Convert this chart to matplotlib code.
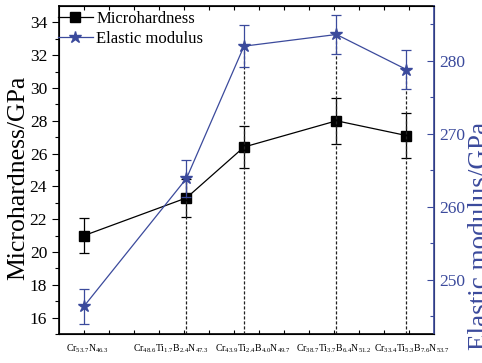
import matplotlib
matplotlib.use("Agg")
import matplotlib.pyplot as plt
import numpy as np

plt.rcParams['font.family'] = ['Liberation Serif', 'DejaVu Serif']
plt.rcParams['mathtext.fontset'] = 'custom'
plt.rcParams['mathtext.rm'] = 'Liberation Serif'
plt.rcParams['mathtext.it'] = 'Liberation Serif:italic'

# Ti+B content, used as x position
x_pos = [0.0, 4.1, 6.4, 10.1, 12.9]
x_labels = [r'Cr$_{\mathrm{53.7}}$N$_{\mathrm{46.3}}$',
            r'Cr$_{\mathrm{48.6}}$Ti$_{\mathrm{1.7}}$B$_{\mathrm{2.4}}$N$_{\mathrm{47.3}}$',
            r'Cr$_{\mathrm{43.9}}$Ti$_{\mathrm{2.4}}$B$_{\mathrm{4.0}}$N$_{\mathrm{49.7}}$',
            r'Cr$_{\mathrm{38.7}}$Ti$_{\mathrm{3.7}}$B$_{\mathrm{6.4}}$N$_{\mathrm{51.2}}$',
            r'Cr$_{\mathrm{33.4}}$Ti$_{\mathrm{5.3}}$B$_{\mathrm{7.6}}$N$_{\mathrm{53.7}}$']
label_x = [0.12, 3.48, 6.76, 10.0, 13.1]

hardness = [21.0, 23.3, 26.4, 28.0, 27.1]
hardness_err = [1.05, 1.15, 1.3, 1.4, 1.35]
modulus = [246.4, 263.9, 282.0, 283.6, 278.8]
modulus_err = [2.4, 2.5, 2.9, 2.7, 2.7]

blue = '#3b4a9c'

fig = plt.figure(figsize=(4.82, 3.63), dpi=100)
ax = fig.add_axes([0.1224, 0.0799, 0.778, 0.9036])
ax2 = ax.twinx()

ax.set_xlim(-1, 14)
ax.set_ylim(15, 35)
ax2.set_ylim(242.6, 287.5)

# dashed guide lines from bottom up to modulus points
ax2.vlines(x_pos[1:], 242.6, modulus[1:], colors='#222222',
           linestyles=(0, (2.5, 1.5)), linewidth=0.9, zorder=1)

ax.errorbar(x_pos, hardness, yerr=hardness_err, fmt='none', ecolor='black',
            elinewidth=0.9, capsize=3.5, capthick=0.9, zorder=3)
ax.plot(x_pos, hardness, color='black', lw=0.9, marker='s', markersize=7,
        label='Microhardness', zorder=4)

ax2.errorbar(x_pos, modulus, yerr=modulus_err, fmt='none', ecolor=blue,
             elinewidth=0.9, capsize=3.5, capthick=0.9, zorder=3)
ax2.plot(x_pos, modulus, color=blue, lw=0.9, marker='*', markersize=9,
         label='Elastic modulus', zorder=4)

# axes styling
ax.set_xticks(np.arange(0, 14))
ax.set_xticklabels([])
ax.tick_params(axis='x', which='both', direction='in', length=3, top=True, width=0.8)
ax.set_yticks(np.arange(16, 35, 2))
ax.set_yticks(np.arange(15, 35, 1), minor=True)
ax.tick_params(axis='y', which='major', direction='out', length=5, labelsize=12.5, width=0.8)
ax.tick_params(axis='y', which='minor', direction='out', length=3, width=0.8)

ax2.set_yticks([250, 260, 270, 280])
ax2.set_yticks([245, 255, 265, 275, 285], minor=True)
ax2.tick_params(axis='y', which='both', direction='in', colors=blue, labelsize=12.5,
                width=0.8)
ax2.tick_params(axis='y', which='major', length=5)
ax2.tick_params(axis='y', which='minor', length=3)
ax2.spines['right'].set_color(blue)
ax2.spines['right'].set_linewidth(1.2)
for s in ['left', 'bottom', 'top']:
    ax.spines[s].set_linewidth(1.2)

for xl, t in zip(label_x, x_labels):
    ax.text(xl, -0.045, t, transform=ax.get_xaxis_transform(), ha='center',
            va='center', fontsize=7)

ax.set_ylabel('Microhardness/GPa', fontsize=18.5)
ax.yaxis.set_label_coords(-0.078, 0.477)
ax2.set_ylabel('Elastic modulus/GPa', fontsize=19.5, color=blue)
ax2.yaxis.set_label_coords(1.092, 0.30)

h1, l1 = ax.get_legend_handles_labels()
h2, l2 = ax2.get_legend_handles_labels()
ax2.legend(h1 + h2, l1 + l2, loc='upper left', bbox_to_anchor=(-0.012, 0.995),
           frameon=False, fontsize=12, handlelength=2.1, handletextpad=0.2,
           borderaxespad=0.0, borderpad=0.2, labelspacing=0.25)

fig.savefig('out.png', dpi=100)
